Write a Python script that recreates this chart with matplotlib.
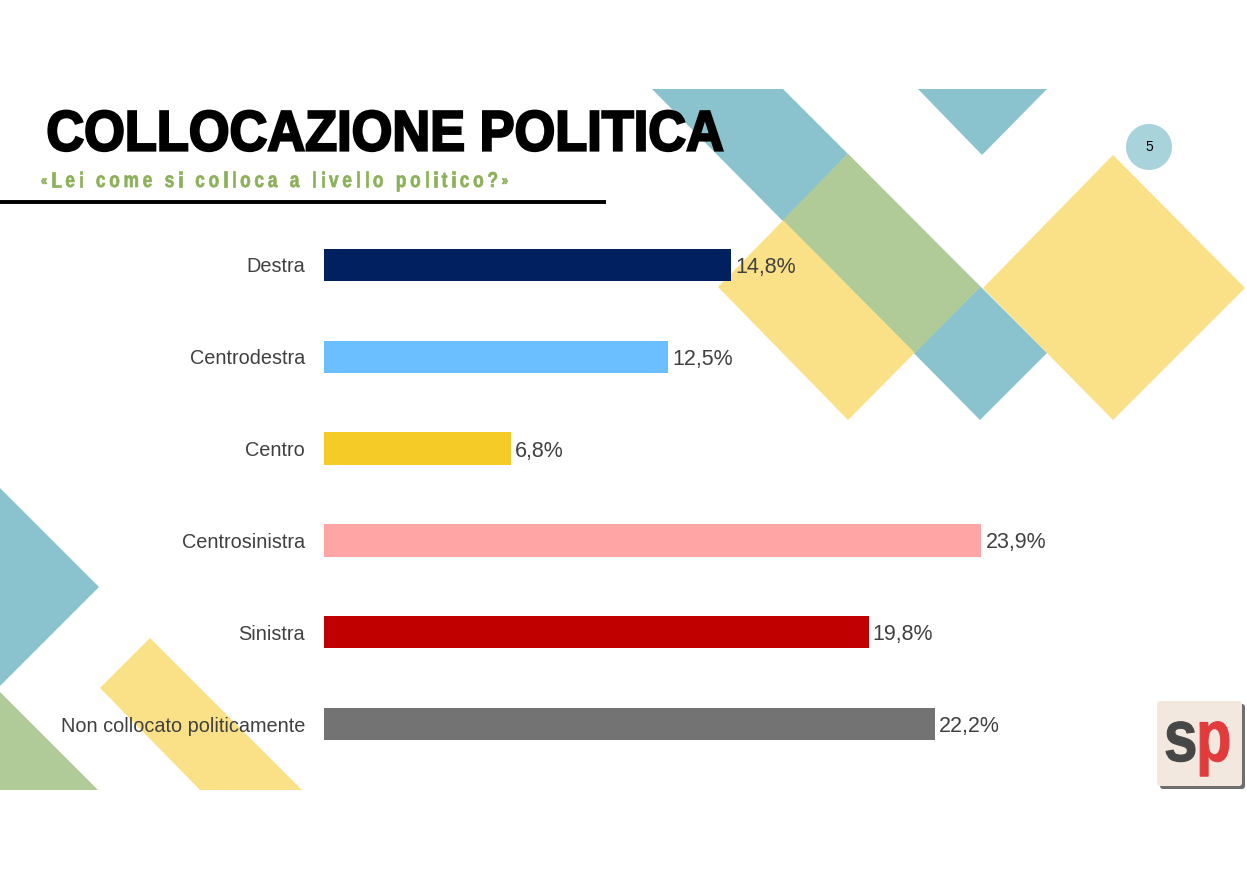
import matplotlib
matplotlib.use("Agg")
import matplotlib.pyplot as plt
from matplotlib.patches import Polygon, Circle, FancyBboxPatch, PathPatch
from matplotlib.textpath import TextPath, text_to_path
from matplotlib.font_manager import FontProperties
from matplotlib.transforms import Affine2D

# ---- data ----
categories = ["Destra", "Centrodestra", "Centro", "Centrosinistra", "Sinistra",
              "Non collocato politicamente"]
values = [14.8, 12.5, 6.8, 23.9, 19.8, 22.2]
value_labels = ["14,8%", "12,5%", "6,8%", "23,9%", "19,8%", "22,2%"]
bar_colors = ["#002060", "#6BBFFF", "#F5CB27", "#FFA5A5", "#C00000", "#737373"]
title = "COLLOCAZIONE POLITICA"
subtitle = "«Lei come si colloca a livello politico?»"
page_number = "5"

W, H = 1247, 880
fig = plt.figure(figsize=(W / 100, H / 100), dpi=100)
fig.patch.set_facecolor("white")

# ---- decorative background (pixel coordinates) ----
bg = fig.add_axes([0, 0, 1, 1], zorder=0)
bg.set_xlim(0, W)
bg.set_ylim(H, 0)
bg.axis("off")

TEAL = "#8AC3CD"
YELLOW = "#FAE187"
GREEN = "#B0CB98"
FAM = ["Liberation Sans", "DejaVu Sans"]


def poly(pts, color, z=1):
    bg.add_patch(Polygon(pts, closed=True, facecolor=color, edgecolor="none", zorder=z))


def fitted_text(s, x0, x1, baseline, size_px, color, z=6, weight="bold", **kw):
    """Text as a path, stretched horizontally so its ink spans x0..x1."""
    prop = FontProperties(family=FAM, weight=weight)
    tp = TextPath((0, 0), s, size=size_px, prop=prop)
    ext = tp.get_extents()
    sx = (x1 - x0) / ext.width
    tr = Affine2D().translate(-ext.x0, 0).scale(sx, -1).translate(x0, baseline)
    p = PathPatch(tr.transform_path(tp), facecolor=color, zorder=z, **kw)
    bg.add_patch(p)
    return p


def tracked_text(s, x0, x1, baseline, size_px, xscale, color, z=6, weight="bold",
                 small="«»", small_scale=0.65, stroke=0.5):
    """Letter-spaced text: each glyph drawn as a path, spacing chosen to span x0..x1."""
    sizes = [size_px * (small_scale if c in small else 1.0) for c in s]
    props = [FontProperties(family=FAM, weight=weight, size=sz) for sz in sizes]
    widths = [text_to_path.get_text_width_height_descent(c, p, ismath=False)[0] * xscale
              for c, p in zip(s, props)]
    track = ((x1 - x0) - sum(widths)) / (len(s) - 1)
    cx = x0
    for c, w, sz, p in zip(s, widths, sizes, props):
        if c.strip():
            tp = TextPath((0, 0), c, size=sz, prop=p)
            dy = -size_px * 0.1 if c in small else 0
            tr = Affine2D().scale(xscale, -1).translate(cx, baseline + dy)
            bg.add_patch(PathPatch(tr.transform_path(tp), facecolor=color,
                                   edgecolor=color, linewidth=stroke, zorder=z))
        cx += w + track


# big teal band
poly([(652, 89), (783, 89), (1047, 353), (980, 420)], TEAL, 1)
# small top teal triangle
poly([(918, 89), (1047, 89), (982, 155)], TEAL, 1)
# yellow diamonds
poly([(718, 287), (848, 154), (980, 287), (848, 420)], YELLOW, 2)
poly([(983, 288), (1113, 155), (1245, 288), (1113, 420)], YELLOW, 2)
# green overlap
poly([(848, 154), (980, 287), (915, 353), (783, 220)], GREEN, 3)
# bottom-left shapes
poly([(0, 488), (99, 587), (0, 686)], TEAL, 1)
poly([(0, 692), (98, 790), (0, 790)], GREEN, 1)
poly([(100, 688), (150, 638), (302, 790), (200, 790)], YELLOW, 1)

# page number circle
bg.add_patch(Circle((1149, 147), 23, facecolor="#A8D3DA", edgecolor="none", zorder=4))
bg.text(1149, 147, page_number, ha="center", va="center", fontsize=10,
        family=FAM, color="black", zorder=5)

# title (heavy, condensed)
fitted_text(title, 48.5, 722.5, 150.5, 57.0, "black", z=6, edgecolor="black", linewidth=1.6)
# subtitle
tracked_text(subtitle, 41, 508, 187, 21.5, 0.8, "#8DB05A", z=6)
# rule line
bg.plot([0, 606], [202.5, 202.5], color="black", lw=2.8, solid_capstyle="butt", zorder=6)

# logo
bg.add_patch(FancyBboxPatch((1160, 704), 85, 85, boxstyle="round,pad=0,rounding_size=3",
                            facecolor="#6E6E6E", edgecolor="none", zorder=6))
bg.add_patch(FancyBboxPatch((1157, 701), 85, 85, boxstyle="round,pad=0,rounding_size=3",
                            facecolor="#F2E8E0", edgecolor="none", zorder=7))
fitted_text("s", 1166, 1195, 761, 73, "#474747", z=8, edgecolor="#474747", linewidth=0.8)
fitted_text("p", 1200, 1229, 761, 73, "#E23B3B", z=8, edgecolor="#E23B3B", linewidth=0.8)

# ---- bar chart ----
px_per_unit = 27.5
x0_px = 324
xmax = 30
top_px, bot_px = 219, 770
ax = fig.add_axes([x0_px / W, 1 - bot_px / H, xmax * px_per_unit / W, (bot_px - top_px) / H],
                  zorder=10)
ax.patch.set_alpha(0)
ypos = list(range(len(categories)))
ax.barh(ypos, values, height=0.353, color=bar_colors, zorder=3)
ax.set_xlim(0, xmax)
ax.set_ylim(len(categories) - 0.5, -0.5)
ax.set_yticks(ypos)
ax.set_yticklabels(categories, fontsize=14.3, color="#404040", family=FAM)
ax.tick_params(axis="y", length=0, pad=13.7)
ax.set_xticks([])
for s in ax.spines.values():
    s.set_visible(False)
for y, v, lab in zip(ypos, values, value_labels):
    ax.annotate(lab, (v, y), xytext=(3, 0), textcoords="offset points",
                ha="left", va="center_baseline", fontsize=15.5, color="#404040",
                family=FAM, zorder=4)

fig.savefig("out.png", dpi=100, facecolor="white")
